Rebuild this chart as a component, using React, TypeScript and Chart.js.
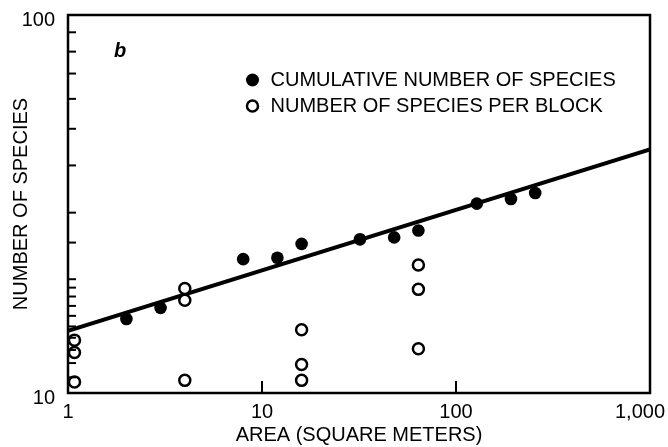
import React, { useEffect, useRef } from "react";
import { Chart, registerables } from "chart.js";

Chart.register(...registerables);

// ---- data ----
const cumulativeArea = [2, 3, 8, 12, 16, 32, 48, 64, 128, 192, 256];
const cumulativeSpecies = [15.7, 16.8, 22.6, 22.8, 24.8, 25.5, 25.8, 26.9, 31.7, 32.6, 33.8];

const blockArea = [1.08, 1.08, 1.08, 4, 4, 4, 16, 16, 16, 64, 64, 64];
const blockSpecies = [13.8, 12.8, 10.7, 18.9, 17.6, 10.8, 14.7, 11.9, 10.8, 21.8, 18.8, 13.1];

const fitArea = [1, 1000];
const fitSpecies = [14.6, 44.1];

const xTickValues = [1, 10, 100, 1000];
const xTickLabels = ["1", "10", "100", "1,000"];
const yTickValues = [10, 100];
const yTickLabels = ["10", "100"];

const cumulativeLabel = "CUMULATIVE NUMBER OF SPECIES";
const blockLabel = "NUMBER OF SPECIES PER BLOCK";
const panelLetter = "b";

const FONT = "'Liberation Sans', Arial, Helvetica, sans-serif";

function findLabel(values: number[], labels: string[], v: number): string {
  for (let i = 0; i < values.length; i++) {
    if (Math.abs(values[i] - v) / values[i] < 1e-6) return labels[i];
  }
  return "";
}

const framePlugin = {
  id: "framePlugin",
  beforeDraw(chart: any) {
    const xs = chart.scales.x;
    if (xs && xs.getLabelItems) {
      const items = xs.getLabelItems();
      items.forEach((it: any) => {
        if (it.label === "1,000" && !it._shifted) {
          it.options.translation[0] -= 10;
          it._shifted = true;
        }
      });
    }
  },
  afterDatasetsDraw(chart: any) {
    const { ctx, chartArea } = chart;
    const { left, right, top, bottom } = chartArea;
    const xs = chart.scales.x;
    const ys = chart.scales.y;
    ctx.save();
    ctx.strokeStyle = "#000";
    // frame
    ctx.lineWidth = 2.5;
    ctx.strokeRect(left, top, right - left, bottom - top);
    // inner y ticks (minor)
    ctx.lineWidth = 2;
    ys.ticks.forEach((t: any) => {
      if (t.value > ys.min && t.value < ys.max) {
        const y = ys.getPixelForValue(t.value);
        ctx.beginPath();
        ctx.moveTo(left, y);
        ctx.lineTo(left + 8, y);
        ctx.stroke();
      }
    });
    // inner x ticks at decades
    xs.ticks.forEach((t: any) => {
      const lg = Math.log10(t.value);
      if (t.value > xs.min && t.value < xs.max && Math.abs(lg - Math.round(lg)) < 1e-9) {
        const x = xs.getPixelForValue(t.value);
        ctx.beginPath();
        ctx.moveTo(x, bottom);
        ctx.lineTo(x, bottom - 12);
        ctx.stroke();
      }
    });
    // panel letter
    ctx.fillStyle = "#000";
    ctx.font = "italic bold 20px " + FONT;
    ctx.textAlign = "left";
    ctx.textBaseline = "alphabetic";
    ctx.fillText(panelLetter, left + 46, top + 42);
    // legend
    const w = right - left;
    const mx = left + w * 0.317;
    const tx = mx + 18;
    const y1 = top + 65;
    const y2 = top + 91;
    ctx.beginPath();
    ctx.arc(mx, y1, 6.5, 0, Math.PI * 2);
    ctx.fill();
    ctx.beginPath();
    ctx.arc(mx, y2, 5.5, 0, Math.PI * 2);
    ctx.fillStyle = "#fff";
    ctx.fill();
    ctx.lineWidth = 2.5;
    ctx.stroke();
    ctx.fillStyle = "#000";
    ctx.font = "20px " + FONT;
    ctx.textBaseline = "middle";
    ctx.fillText(cumulativeLabel, tx, y1);
    ctx.fillText(blockLabel, tx, y2);
    ctx.restore();
  },
};

export default function App() {
  const canvasRef = useRef<HTMLCanvasElement | null>(null);

  useEffect(() => {
    document.body.style.margin = "0";
    const canvas = canvasRef.current;
    if (!canvas) return;

    const chart = new Chart(canvas, {
      type: "scatter",
      data: {
        datasets: [
          {
            label: "fit",
            data: fitArea.map((x, i) => ({ x, y: fitSpecies[i] })),
            showLine: true,
            borderColor: "#000",
            borderWidth: 4,
            pointRadius: 0,
            order: 3,
          },
          {
            label: cumulativeLabel,
            data: cumulativeArea.map((x, i) => ({ x, y: cumulativeSpecies[i] })),
            backgroundColor: "#000",
            borderColor: "#000",
            borderWidth: 0,
            pointRadius: 6.3,
            order: 2,
          },
          {
            label: blockLabel,
            data: blockArea.map((x, i) => ({ x, y: blockSpecies[i] })),
            backgroundColor: "#fff",
            borderColor: "#000",
            borderWidth: 2.5,
            pointRadius: 5.5,
            order: 1,
          },
        ],
      },
      options: {
        animation: false,
        responsive: false,
        devicePixelRatio: 1,
        layout: { padding: { left: 0, right: 18, top: 15, bottom: 0 } },
        plugins: {
          legend: { display: false },
          tooltip: { enabled: false },
        },
        scales: {
          x: {
            type: "logarithmic",
            min: 1,
            max: 1000,
            grid: { display: false, drawTicks: false },
            border: { display: false },
            ticks: {
              autoSkip: false,
              maxRotation: 0,
              padding: 7,
              color: "#000",
              font: { family: FONT, size: 20 },
              callback: (v: any) => findLabel(xTickValues, xTickLabels, Number(v)),
            },
            title: {
              display: true,
              text: "AREA (SQUARE METERS)",
              color: "#000",
              font: { family: FONT, size: 20 },
              padding: { top: 0, bottom: 0 },
            },
            afterFit: (s: any) => {
              s.height = 54;
              s.paddingLeft = 0;
              s.paddingRight = 0;
            },
          },
          y: {
            type: "logarithmic",
            min: 10,
            max: 100,
            grid: { display: false, drawTicks: false },
            border: { display: false },
            ticks: {
              autoSkip: false,
              padding: 13,
              labelOffset: 5,
              color: "#000",
              font: { family: FONT, size: 20 },
              callback: (v: any) => findLabel(yTickValues, yTickLabels, Number(v)),
            },
            title: {
              display: true,
              text: "NUMBER OF SPECIES",
              color: "#000",
              font: { family: FONT, size: 20 },
              padding: { top: 9, bottom: 0 },
            },
            afterFit: (s: any) => {
              s.width = 68;
              s.paddingTop = 0;
              s.paddingBottom = 0;
            },
          },
        },
      },
      plugins: [framePlugin],
    });

    return () => chart.destroy();
  }, []);

  return (
    <div style={{ width: 668, height: 447 }}>
      <canvas ref={canvasRef} width={668} height={447} style={{ display: "block" }} />
    </div>
  );
}
